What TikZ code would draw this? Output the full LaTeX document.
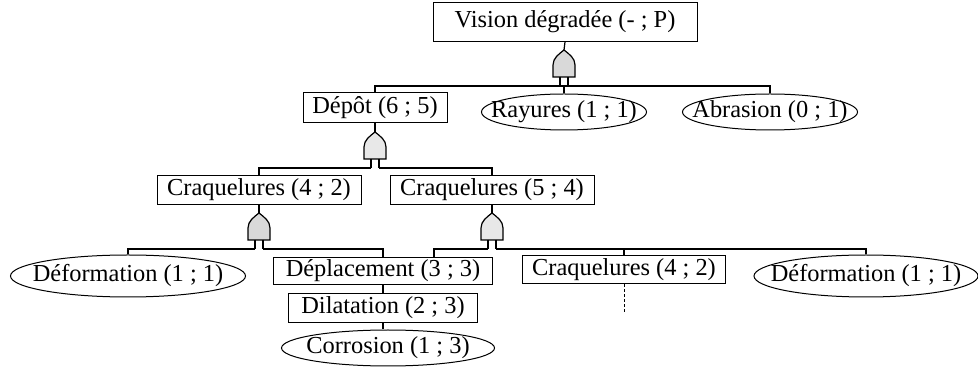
\documentclass[tikz,border=0pt]{standalone}
\usepackage{fontspec}
\setmainfont{Liberation Serif}
\usetikzlibrary{shapes.geometric}
\definecolor{gatedark}{HTML}{D9D9D9}
\definecolor{gatelight}{HTML}{E8E8E8}

% or-gate: name, x, tip y, fill
\newcommand{\orgate}[4]{%
  \draw[gate,fill=#4] (#2-11,#3+27) -- (#2-11,#3+15)
    .. controls (#2-11,#3+8) and (#2-5,#3+4) .. (#2,#3)
    .. controls (#2+5,#3+4) and (#2+11,#3+8) .. (#2+11,#3+15)
    -- (#2+11,#3+27) -- cycle;
  \coordinate (#1-in) at (#2,#3);
  \coordinate (#1-l) at (#2-4,#3+36);
  \coordinate (#1-r) at (#2+4,#3+36);
  \draw[link] (#2-4,#3+27) -- (#1-l);
  \draw[link] (#2+4,#3+27) -- (#1-r);
}
\newcommand{\ev}[1]{\makebox[0pt]{#1}}

\tikzset{
  evt/.style={draw, rectangle, inner sep=0pt, line width=0.5pt, font=\fontsize{12.2}{14}\selectfont},
  basic/.style={draw, ellipse, inner sep=0pt, line width=0.5pt, font=\fontsize{12.2}{14}\selectfont},
  gate/.style={line width=0.6pt},
  link/.style={line width=0.6pt},
}

\begin{document}
\begin{tikzpicture}[x=0.5pt,y=-0.5pt]
  \useasboundingbox (0,0) rectangle (978,367);

  % events
  \node[evt,minimum width=132pt,minimum height=19.5pt] (vision) at (565,22) {Vision dégradée (- ; P)};
  \node[evt,minimum width=72pt,minimum height=15pt] (depot) at (375,108) {Dépôt (6 ; 5)};
  \node[basic,minimum width=82.5pt,minimum height=18pt] (rayures) at (564,112) {\ev{Rayures (1 ; 1)}};
  \node[basic,minimum width=87.5pt,minimum height=18pt] (abrasion) at (770,112) {\ev{Abrasion (0 ; 1)}};
  \node[evt,minimum width=102pt,minimum height=14.5pt] (craqA) at (259,190) {Craquelures (4 ; 2)};
  \node[evt,minimum width=102pt,minimum height=14.5pt] (craqB) at (492,190) {Craquelures (5 ; 4)};
  \node[basic,minimum width=117.5pt,minimum height=21pt] (defL) at (128,276) {\ev{Déformation (1 ; 1)}};
  \node[evt,minimum width=109.5pt,minimum height=13.5pt] (depl) at (383,271) {Déplacement (3 ; 3)};
  \node[evt,minimum width=101.5pt,minimum height=14pt] (craqC) at (624,270) {Craquelures (4 ; 2)};
  \node[basic,minimum width=112pt,minimum height=21pt] (defR) at (866,276) {\ev{Déformation (1 ; 1)}};
  \node[evt,minimum width=94.5pt,minimum height=14.5pt] (dil) at (383,308) {Dilatation (2 ; 3)};
  \node[basic,minimum width=106.5pt,minimum height=18pt] (corr) at (388,348) {\ev{Corrosion (1 ; 3)}};
  \coordinate (cont) at (624,313);

  % gates
  \orgate{g1}{564}{50}{gatedark}
  \orgate{g2}{375}{132}{gatelight}
  \orgate{g3}{259}{213}{gatedark}
  \orgate{g4}{492}{213}{gatelight}

  % links
  \draw[link] (vision.south) -- (g1-in);
  \draw[link] (depot.north) |- (g1-l);
  \draw[link] (abrasion.north) |- (g1-r);
  \draw[link] (g1-l) -- (g1-r);
  \draw[link] (rayures.north) -- (rayures.north |- g1-r);

  \draw[link] (depot.south) -- (g2-in);
  \draw[link] (craqA.north) |- (g2-l);
  \draw[link] (craqB.north) |- (g2-r);

  \draw[link] (craqA.south) -- (g3-in);
  \draw[link] (defL.north) |- (g3-l);
  \draw[link] (depl.north) |- (g3-r);

  \draw[link] (craqB.south) -- (g4-in);
  \draw[link] ([xshift=25.5pt]depl.north) |- (g4-l);
  \draw[link] (craqC.north) |- (g4-r);
  \draw[link] (defR.north) |- (g4-r);

  \draw[link] (depl.south) -- (dil.north);
  \draw[link] (dil.south) -- (dil.south |- corr.north);
  \draw[line width=0.5pt,dash pattern=on 1.5pt off 1pt] (craqC.south) -- (cont);
\end{tikzpicture}
\end{document}
